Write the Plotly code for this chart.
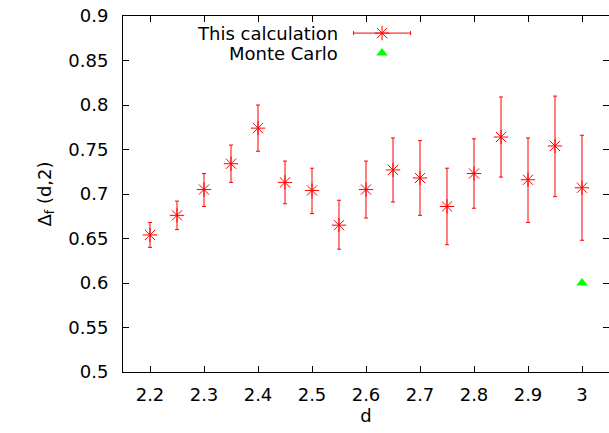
import plotly.graph_objects as go

d_vals = [2.2, 2.25, 2.3, 2.35, 2.4, 2.45, 2.5, 2.55, 2.6, 2.65, 2.7, 2.75, 2.8, 2.85, 2.9, 2.95, 3.0]
delta_vals = [0.654, 0.676, 0.705, 0.734, 0.774, 0.713, 0.704, 0.665, 0.705, 0.727, 0.718, 0.686, 0.723, 0.764, 0.716, 0.754, 0.707]
err_plus = [0.014, 0.016, 0.018, 0.021, 0.026, 0.024, 0.025, 0.028, 0.032, 0.036, 0.042, 0.043, 0.039, 0.045, 0.047, 0.056, 0.059]
err_minus = [0.014, 0.016, 0.019, 0.021, 0.026, 0.024, 0.026, 0.027, 0.032, 0.036, 0.042, 0.043, 0.039, 0.045, 0.048, 0.057, 0.059]

mc_d = [3.0]
mc_vals = [0.6]

y_ticks = [0.5, 0.55, 0.6, 0.65, 0.7, 0.75, 0.8, 0.85, 0.9]
y_ticktext = ["0.5", "0.55", "0.6", "0.65", "0.7", "0.75", "0.8", "0.85", "0.9"]
x_ticks = [2.2, 2.3, 2.4, 2.5, 2.6, 2.7, 2.8, 2.9, 3.0]
x_ticktext = ["2.2", "2.3", "2.4", "2.5", "2.6", "2.7", "2.8", "2.9", "3"]

RED = "#ff0000"
GREEN = "#00ff00"
FONT = "DejaVu Sans, Arial, sans-serif"
FS = 18

fig = go.Figure()
fig.add_trace(go.Scatter(
    x=d_vals, y=delta_vals, mode="markers", name="This calculation",
    marker=dict(symbol="asterisk-open", size=12, color=RED, line=dict(color=RED, width=1)),
    error_y=dict(type="data", symmetric=False, array=err_plus, arrayminus=err_minus,
                 color=RED, thickness=1, width=2),
    showlegend=False,
))
fig.add_trace(go.Scatter(
    x=mc_d, y=mc_vals, mode="markers", name="Monte Carlo",
    marker=dict(symbol="triangle-up", size=10, color=GREEN),
    showlegend=False,
))

# manual gnuplot-style legend (key on overlay axis in paper-like coordinates)
fig.add_trace(go.Scatter(
    x=[0.533], y=[0.952], xaxis="x2", yaxis="y2", mode="markers",
    marker=dict(symbol="asterisk-open", size=12, color=RED, line=dict(color=RED, width=1)),
    error_x=dict(type="constant", value=0.0586, color=RED, thickness=1, width=2),
    showlegend=False, hoverinfo="skip",
))
fig.add_trace(go.Scatter(
    x=[0.533], y=[0.896], xaxis="x2", yaxis="y2", mode="markers",
    marker=dict(symbol="triangle-up", size=10, color=GREEN),
    showlegend=False, hoverinfo="skip",
))

axis_common = dict(
    showgrid=False, zeroline=False, ticks="inside", ticklen=6, tickwidth=1,
    tickcolor="black", showline=True, linecolor="black", linewidth=1, mirror="ticks",
    tickfont=dict(family=FONT, size=FS, color="black"), automargin=False,
)

fig.update_layout(
    width=609, height=433,
    margin=dict(l=123, r=0, t=16, b=61),
    plot_bgcolor="white", paper_bgcolor="white",
    font=dict(family=FONT, size=FS, color="black"),
    xaxis=dict(range=[2.15, 3.05], tickvals=x_ticks, ticktext=x_ticktext,
               title=dict(text="d", font=dict(family=FONT, size=FS), standoff=5),
               ticklabelstandoff=6, **axis_common),
    yaxis=dict(range=[0.5, 0.9], tickvals=y_ticks, ticktext=y_ticktext,
               title=dict(text="Δ<sub>f</sub> (d,2)", font=dict(family=FONT, size=FS), standoff=12),
               ticklabelstandoff=10, **axis_common),
    xaxis2=dict(range=[0, 1], overlaying="x", visible=False, fixedrange=True),
    yaxis2=dict(range=[0, 1], overlaying="y", visible=False, fixedrange=True),
    annotations=[
        dict(text="This calculation", x=0.4465, y=0.952, xref="paper", yref="paper",
             xanchor="right", yanchor="middle", showarrow=False,
             font=dict(family=FONT, size=FS, color="black")),
        dict(text="Monte Carlo", x=0.4465, y=0.896, xref="paper", yref="paper",
             xanchor="right", yanchor="middle", showarrow=False,
             font=dict(family=FONT, size=FS, color="black")),
    ],
)

fig.write_html("out.html", config={"displayModeBar": False},
               post_script="document.body.style.margin='0';document.body.style.overflow='hidden';")
